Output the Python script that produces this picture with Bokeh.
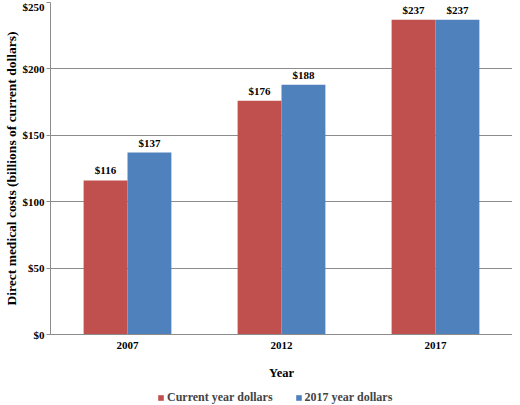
from bokeh.plotting import figure
from bokeh.layouts import column
from bokeh.models import (ColumnDataSource, FactorRange, Range1d, FixedTicker,
                          NumeralTickFormatter, Legend, LegendItem, LabelSet)
from bokeh.transform import dodge
from bokeh.embed import file_html
from bokeh.resources import INLINE

years = ["2007", "2012", "2017"]
current_dollars = [116, 176, 237]
dollars_2017 = [137, 188, 237]
series_names = ["Current year dollars", "2017 year dollars"]

FONT = "Liberation Serif"
RED = "#C0504D"
BLUE = "#4F81BD"
GRID = "#8c8c8c"

src = ColumnDataSource(dict(
    year=years,
    cur=current_dollars,
    d17=dollars_2017,
    cur_lbl=["$%d" % v for v in current_dollars],
    d17_lbl=["$%d" % v for v in dollars_2017],
))

p = figure(x_range=FactorRange(*years), y_range=Range1d(0, 250),
           width=512, height=391, toolbar_location=None, output_backend="svg",
           min_border_left=36, min_border_right=0, min_border_top=2,
           min_border_bottom=57)

p.vbar(x=dodge("year", -0.1425, range=p.x_range), top="cur", width=0.285,
       source=src, color=RED, line_color=None)
p.vbar(x=dodge("year", 0.1425, range=p.x_range), top="d17", width=0.285,
       source=src, color=BLUE, line_color=None)

for col, lbl, off in [("cur", "cur_lbl", -0.1425), ("d17", "d17_lbl", 0.1425)]:
    labels = LabelSet(x=dodge("year", off, range=p.x_range), y=col, text=lbl,
                      source=src, text_align="center", y_offset=4,
                      text_font=FONT, text_font_style="bold",
                      text_font_size="11px", text_color="black")
    p.add_layout(labels)

# axes
p.yaxis.ticker = FixedTicker(ticks=[0, 50, 100, 150, 200, 250])
p.yaxis.formatter = NumeralTickFormatter(format="$0")
p.yaxis.axis_label = "Direct medical costs (billions of current dollars)"
p.xaxis.axis_label = "Year"
for ax in (p.xaxis, p.yaxis):
    ax.axis_label_text_font = FONT
    ax.axis_label_text_font_style = "bold"
    ax.axis_label_text_color = "black"
    ax.major_label_text_font = FONT
    ax.major_label_text_font_style = "bold"
    ax.major_label_text_font_size = "11px"
    ax.major_label_text_color = "black"
    ax.axis_line_color = GRID
    ax.major_tick_line_color = GRID
    ax.minor_tick_line_color = None
    ax.major_tick_in = 0
    ax.major_tick_out = 4
p.yaxis.axis_label_text_font_size = "13.5px"
p.yaxis.axis_label_standoff = 1
p.yaxis.major_label_standoff = 2
p.xaxis.axis_label_text_font_size = "12.5px"
p.xaxis.major_tick_line_color = None
p.xaxis.major_tick_out = 0
p.xaxis.major_label_standoff = 7
p.xaxis.axis_label_standoff = 14

p.xgrid.grid_line_color = None
p.ygrid.grid_line_color = GRID
p.ygrid.grid_line_width = 1
p.outline_line_color = None

# legend lives in a small strip below the chart
lf = figure(x_range=p.x_range, y_range=Range1d(-1000, -999), width=512, height=14,
            toolbar_location=None, output_backend="svg", min_border=0)
lf.axis.visible = False
lf.grid.grid_line_color = None
lf.outline_line_color = None
l1 = lf.vbar(x="year", top="cur", width=0, source=src, color=RED, line_color=None)
l2 = lf.vbar(x="year", top="d17", width=0, source=src, color=BLUE, line_color=None)

legend = Legend(items=[LegendItem(label=series_names[0], renderers=[l1]),
                       LegendItem(label=series_names[1], renderers=[l2])],
                orientation="horizontal", location=(107, 0),
                label_text_font=FONT, label_text_font_style="bold",
                label_text_font_size="12px", glyph_width=7, glyph_height=7,
                spacing=22, padding=0, margin=0, border_line_color=None,
                background_fill_alpha=0, label_standoff=3)
lf.add_layout(legend)

layout = column(p, lf, spacing=0)
open("out.html", "w").write(file_html(layout, INLINE))
